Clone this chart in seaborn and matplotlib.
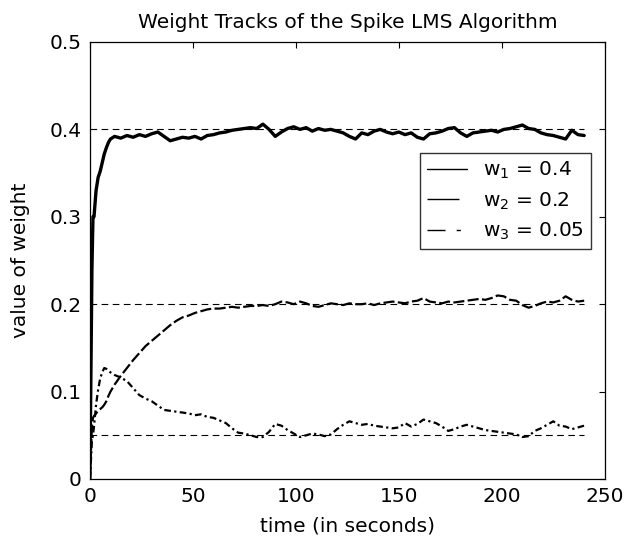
import matplotlib
matplotlib.use("Agg")
import matplotlib.pyplot as plt
from matplotlib.lines import Line2D
import seaborn as sns
import pandas as pd

# time axis (seconds), dense at the start
time = [0, 0.5, 1, 1.5, 2, 3, 4, 5, 6, 7, 8, 9, 10,
        12, 15, 18, 21, 24, 27, 30, 33, 36, 39,
        42, 45, 48, 51, 54, 57, 60, 63, 66, 69,
        72, 75, 78, 81, 84, 87, 90, 93, 96, 99,
        102, 105, 108, 111, 114, 117, 120, 123, 126, 129,
        132, 135, 138, 141, 144, 147, 150, 153, 156, 159,
        162, 165, 168, 171, 174, 177, 180, 183, 186, 189,
        192, 195, 198, 201, 204, 207, 210, 213, 216, 219,
        222, 225, 228, 231, 234, 237, 240]

w1 = [0.0, 0.12, 0.24, 0.30, 0.30, 0.33, 0.345, 0.352, 0.362, 0.372, 0.379, 0.385, 0.389,
      0.392, 0.390, 0.393, 0.391, 0.394, 0.392, 0.395, 0.397, 0.392, 0.387,
      0.389, 0.391, 0.390, 0.392, 0.389, 0.393, 0.394, 0.396, 0.397, 0.399,
      0.400, 0.401, 0.402, 0.401, 0.406, 0.400, 0.392, 0.397, 0.401, 0.403,
      0.400, 0.402, 0.398, 0.401, 0.399, 0.400, 0.398, 0.396, 0.392, 0.389,
      0.396, 0.394, 0.398, 0.400, 0.397, 0.395, 0.397, 0.394, 0.396, 0.391,
      0.389, 0.395, 0.396, 0.398, 0.401, 0.402, 0.396, 0.392, 0.396, 0.397,
      0.398, 0.399, 0.397, 0.400, 0.401, 0.403, 0.405, 0.401, 0.400, 0.396,
      0.394, 0.393, 0.391, 0.389, 0.399, 0.394, 0.393]

w2 = [0.0, 0.03, 0.06, 0.07, 0.072, 0.075, 0.078, 0.080, 0.082, 0.085, 0.089, 0.095, 0.100,
      0.108, 0.118, 0.127, 0.136, 0.144, 0.152, 0.158, 0.164, 0.170, 0.176,
      0.181, 0.185, 0.187, 0.190, 0.192, 0.194, 0.195, 0.195, 0.196, 0.197,
      0.196, 0.197, 0.198, 0.198, 0.199, 0.198, 0.200, 0.203, 0.202, 0.200,
      0.203, 0.201, 0.198, 0.197, 0.199, 0.201, 0.200, 0.199, 0.201, 0.200,
      0.200, 0.201, 0.199, 0.201, 0.202, 0.203, 0.202, 0.201, 0.203, 0.204,
      0.207, 0.203, 0.202, 0.201, 0.203, 0.202, 0.203, 0.204, 0.205, 0.206,
      0.205, 0.207, 0.210, 0.209, 0.205, 0.204, 0.199, 0.196, 0.198, 0.201,
      0.203, 0.202, 0.204, 0.209, 0.205, 0.203, 0.204]

w3 = [0.0, 0.02, 0.045, 0.05, 0.06, 0.085, 0.102, 0.115, 0.122, 0.127, 0.126, 0.124, 0.122,
      0.119, 0.116, 0.112, 0.104, 0.096, 0.092, 0.089, 0.084, 0.079, 0.078,
      0.077, 0.076, 0.075, 0.073, 0.074, 0.071, 0.070, 0.067, 0.064, 0.058,
      0.053, 0.052, 0.050, 0.048, 0.048, 0.054, 0.063, 0.061, 0.056, 0.052,
      0.048, 0.050, 0.052, 0.051, 0.049, 0.051, 0.057, 0.062, 0.066, 0.064,
      0.062, 0.063, 0.061, 0.060, 0.059, 0.058, 0.059, 0.064, 0.060, 0.063,
      0.068, 0.066, 0.064, 0.060, 0.055, 0.057, 0.060, 0.062, 0.060, 0.058,
      0.056, 0.055, 0.054, 0.053, 0.052, 0.051, 0.048, 0.049, 0.055, 0.058,
      0.062, 0.066, 0.061, 0.060, 0.057, 0.059, 0.061]

true_weights = [0.4, 0.2, 0.05]
labels = [r'$\mathregular{w_1}$ = 0.4', r'$\mathregular{w_2}$ = 0.2', r'$\mathregular{w_3}$ = 0.05']
x_ticks = [0, 50, 100, 150, 200, 250]
y_ticks = [0, 0.1, 0.2, 0.3, 0.4, 0.5]
y_tick_labels = ['0', '0.1', '0.2', '0.3', '0.4', '0.5']

df = pd.DataFrame({'time': time, 'w1': w1, 'w2': w2, 'w3': w3})

sns.set_style("white")
plt.rcParams['font.family'] = ['DejaVu Sans']
plt.rcParams['mathtext.fontset'] = 'dejavusans'
plt.rcParams['text.color'] = 'k'
plt.rcParams['axes.labelcolor'] = 'k'
plt.rcParams['axes.titlecolor'] = 'k'

fig = plt.figure(figsize=(6.42, 5.44), dpi=100)
ax = fig.add_axes([0.140, 0.1195, 0.802, 0.8033])

# reference lines for the true weights
for w in true_weights:
    ax.plot([0, 240], [w, w], color='k', lw=0.8, dashes=(6, 4))

sns.lineplot(data=df, x='time', y='w1', ax=ax, color='k', lw=2.4, errorbar=None)
sns.lineplot(data=df, x='time', y='w2', ax=ax, color='k', lw=1.6, errorbar=None)
ax.lines[-1].set_dashes((5, 1.5))
sns.lineplot(data=df, x='time', y='w3', ax=ax, color='k', lw=1.6, errorbar=None)
ax.lines[-1].set_dashes((3, 1.5, 1, 1.5))

ax.set_xlim(0, 250)
ax.set_ylim(0, 0.5)
ax.set_xticks(x_ticks)
ax.set_xticklabels([str(v) for v in x_ticks])
ax.set_yticks(y_ticks)
ax.set_yticklabels(y_tick_labels)
ax.tick_params(direction='in', length=4, width=0.8, top=True, right=True,
               labelsize=14.5, pad=6, colors='k')
for s in ax.spines.values():
    s.set_color('k')
    s.set_linewidth(0.9)

ax.set_title('Weight Tracks of the Spike LMS Algorithm', fontsize=14.5, pad=10)
ax.set_xlabel('time (in seconds)', fontsize=14.5, labelpad=7)
ax.set_ylabel('value of weight', fontsize=14.5, labelpad=14)

handles = [Line2D([], [], color='k', lw=1.0),
           Line2D([], [], color='k', lw=1.0, dashes=(23, 30)),
           Line2D([], [], color='k', lw=1.0, dashes=(13, 8, 3, 40))]
leg = ax.legend(handles, labels, loc='upper right', bbox_to_anchor=(0.973, 0.746),
                fontsize=14.5, frameon=True, fancybox=False, borderaxespad=0,
                handlelength=2.0, handletextpad=0.8, labelspacing=0.45, borderpad=0.35)
leg.get_frame().set_edgecolor('k')
leg.get_frame().set_linewidth(1.0)

fig.savefig('out.png', dpi=100)
